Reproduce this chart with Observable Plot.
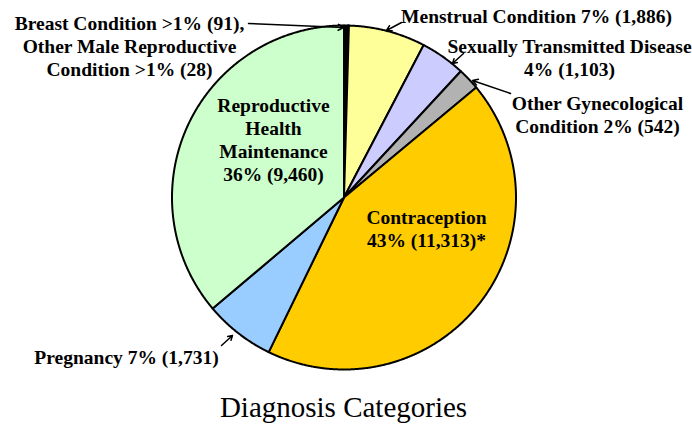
<!DOCTYPE html>
<html>
<head>
<meta charset="utf-8">
<script src="https://cdn.jsdelivr.net/npm/d3@7"></script>
<script src="https://cdn.jsdelivr.net/npm/@observablehq/plot@0.6"></script>
<style>
  html, body { margin: 0; padding: 0; background: #fff; }
  #chart svg { display: block; }
</style>
</head>
<body>
<div id="chart"></div>
<script>
// ---- Data ----
const categories = [
  "Breast Condition",
  "Other Male Reproductive Condition",
  "Menstrual Condition",
  "Sexually Transmitted Disease",
  "Other Gynecological Condition",
  "Contraception",
  "Pregnancy",
  "Reproductive Health Maintenance"
];
const counts = [91, 28, 1886, 1103, 542, 11313, 1731, 9460];
const sliceColors = ["#000000", "#000000", "#FFFF99", "#CCCCFF", "#B2B2B2", "#FFCC00", "#99CCFF", "#CCFFCC"];
const labelTexts = [
  "Breast Condition >1% (91),\nOther Male Reproductive\nCondition >1% (28)",
  "Menstrual Condition 7% (1,886)",
  "Sexually Transmitted Disease\n4% (1,103)",
  "Other Gynecological\nCondition 2% (542)",
  "Contraception\n43% (11,313)*",
  "Pregnancy 7% (1,731)",
  "Reproductive\nHealth\nMaintenance\n36% (9,460)"
];
const chartTitle = "Diagnosis Categories";

// ---- Layout (pixel positions of annotations) ----
const cx = 343.5, cy = 197, R = 172;
const px = x => (x - cx) / R;
const py = y => (cy - y) / R;
const labelPos = [[129, 45], [536, 15], [569, 56.5], [597, 113.5], [426, 227.5], [126, 356], [273, 139]];
const arrowPos = [
  [248, 23, 343, 27],
  [401, 22, 386, 30],
  [463, 53, 452, 63],
  [510, 93, 472, 80],
  [221, 345, 232, 335]
];

// ---- Build slices ----
const arcs = d3.pie().sort(null).value(d => d)(counts);
const slices = arcs.map((a, i) => {
  const pts = [{x: 0, y: 0}];
  const n = Math.max(2, Math.ceil((a.endAngle - a.startAngle) / 0.005));
  for (let k = 0; k <= n; k++) {
    const t = a.startAngle + (a.endAngle - a.startAngle) * k / n;
    pts.push({x: Math.sin(t), y: Math.cos(t)});
  }
  pts.push({x: 0, y: 0});
  return {pts, color: sliceColors[i], name: categories[i]};
});

const labels = labelTexts.map((t, i) => ({text: t, x: px(labelPos[i][0]), y: py(labelPos[i][1])}));
const arrows = arrowPos.map(([x1, y1, x2, y2]) => ({x1: px(x1), y1: py(y1), x2: px(x2), y2: py(y2)}));

const serif = "Liberation Serif";
const chart = Plot.plot({
  width: 692,
  height: 424,
  x: {domain: [-1, 1], range: [cx - R, cx + R], axis: null},
  y: {domain: [-1, 1], range: [cy + R, cy - R], axis: null},
  style: {background: "#fff"},
  marks: [
    ...slices.map(s => Plot.line(s.pts, {x: "x", y: "y", fill: s.color, stroke: "black", strokeWidth: 2, strokeLinejoin: "round", curve: "linear"})),
    Plot.arrow(arrows, {x1: "x1", y1: "y1", x2: "x2", y2: "y2", stroke: "black", strokeWidth: 1.5, headLength: 6, bend: 0}),
    Plot.text(labels, {x: "x", y: "y", text: "text", fontFamily: serif, fontWeight: "bold", fontSize: 19.5, lineHeight: 1.18, textAnchor: "middle", fill: "black"}),
    Plot.text([chartTitle], {x: px(343), y: py(407), text: d => d, fontFamily: serif, fontSize: 29, textAnchor: "middle", fill: "black"})
  ]
});
chart.style.fontFamily = serif;
d3.select(chart).selectAll("g, text, tspan").attr("font-family", serif).style("font-family", serif);
document.getElementById("chart").appendChild(chart);
</script>
</body>
</html>
